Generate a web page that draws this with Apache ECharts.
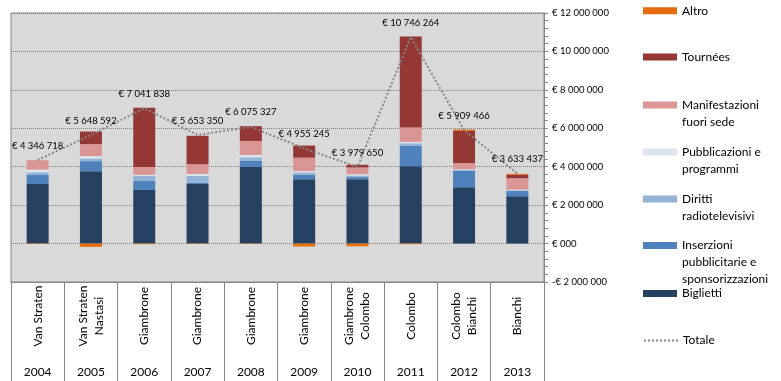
<!DOCTYPE html>
<html>
<head>
<meta charset="utf-8">
<script src="https://cdn.jsdelivr.net/npm/echarts@6/dist/echarts.min.js"></script>
<style>
  html, body { margin: 0; padding: 0; background: #fff; }
  #chart { width: 781px; height: 381px; }
</style>
</head>
<body>
<div id="chart"></div>
<script>
// ---- data ----
const years = ['2004', '2005', '2006', '2007', '2008', '2009', '2010', '2011', '2012', '2013'];
const directors = ['Van Straten', 'Van Straten\nNastasi', 'Giambrone', 'Giambrone', 'Giambrone', 'Giambrone', 'Giambrone\nColombo', 'Colombo', 'Colombo\nBianchi', 'Bianchi'];

const biglietti      = [3100000, 3770000, 2790000, 3100000, 3990000, 3350000, 3350000, 4030000, 2930000, 2460000];
const inserzioni     = [470000, 520000, 470000, 60000, 310000, 230000, 110000, 1060000, 860000, 280000];
const diritti        = [140000, 140000, 260000, 360000, 190000, 120000, 80000, 130000, 50000, 30000];
const pubblicazioni  = [140000, 120000, 60000, 100000, 120000, 70000, 70000, 70000, 30000, 40000];
const manifestazioni = [490000, 630000, 410000, 510000, 730000, 700000, 350000, 750000, 320000, 590000];
const tournees       = [0, 650000, 3080000, 1480000, 770000, 630000, 140000, 4740000, 1670000, 180000];
const altro          = [-20000, -170000, -30000, -20000, -20000, -150000, -140000, -30000, 70000, 50000];
const totale         = [4346718, 5648592, 7041838, 5653350, 6075327, 4955245, 3979650, 10746264, 5909466, 3633437];

const seriesNames = ['Biglietti', 'Inserzioni pubblicitarie e sponsorizzazioni', 'Diritti radiotelevisivi', 'Pubblicazioni e programmi', 'Manifestazioni fuori sede', 'Tournées', 'Altro', 'Totale'];
const legendLabels = ['Biglietti', 'Inserzioni\npubblicitarie e\nsponsorizzazioni', 'Diritti\nradiotelevisivi', 'Pubblicazioni e\nprogrammi', 'Manifestazioni\nfuori sede', 'Tournées', 'Altro', 'Totale'];
const seriesColors = ['#254061', '#4f81bd', '#95b3d7', '#dbe5f1', '#d99694', '#953735', '#e46c0a', '#868686'];

const yMin = -2000000, yMax = 12000000, yStep = 2000000;

// ---- helpers ----
function groupDigits(n) {
  return Math.abs(Math.round(n)).toString().replace(/\B(?=(\d{3})+(?!\d))/g, ' ');
}
function euroAxis(v) {
  if (v === 0) return '€ 000';
  return (v < 0 ? '-' : '') + '€ ' + groupDigits(v);
}

const FONT = 'Lato, "Open Sans", sans-serif';
const barValues = [biglietti, inserzioni, diritti, pubblicazioni, manifestazioni, tournees, altro];

const series = barValues.map((vals, i) => ({
  name: seriesNames[i],
  type: 'bar',
  stack: 'tot',
  barWidth: 22,
  data: vals,
  itemStyle: { color: seriesColors[i] },
  emphasis: { disabled: true }
}));
series.push({
  name: seriesNames[7],
  type: 'line',
  data: totale,
  symbol: 'circle',
  symbolSize: 1,
  showSymbol: true,
  lineStyle: { type: 'dotted', color: seriesColors[7], width: 2 },
  itemStyle: { color: 'rgba(0,0,0,0)' },
  emphasis: { disabled: true },
  label: {
    show: true,
    position: 'top',
    distance: 9,
    fontFamily: FONT,
    fontSize: 9.5,
    color: '#000',
    formatter: p => '€ ' + groupDigits(p.value)
  },
  z: 5
});

// legend layout: icon centre y; first text line aligned with icon
const legendOrder = [6, 5, 4, 3, 2, 1, 0, 7];
const iconCentres = [10.7, 57, 105, 152, 199, 245.5, 293.5, 340.5];
const LH = 17;
const legends = legendOrder.map((si, k) => {
  const lines = legendLabels[si].split('\n');
  const n = lines.length;
  const text = '\n'.repeat(n - 1) + legendLabels[si];
  const boxH = (2 * n - 1) * LH;
  return {
    data: [seriesNames[si]],
    left: 643,
    top: iconCentres[k] - boxH / 2,
    padding: 0,
    itemWidth: 34,
    itemHeight: 7,
    icon: si === 7 ? undefined : 'rect',
    selectedMode: false,
    formatter: () => text,
    textStyle: { fontFamily: FONT, fontSize: 12, color: '#000', lineHeight: LH }
  };
});

const option = {
  animation: false,
  backgroundColor: '#fff',
  textStyle: { fontFamily: FONT },
  grid: {
    left: 11, right: 237, top: 13, bottom: 99,
    show: true, backgroundColor: '#d9d9d9', borderColor: '#868686', borderWidth: 1,
    containLabel: false, outerBoundsMode: 'none'
  },
  legend: legends,
  xAxis: [
    {
      type: 'category',
      data: years,
      boundaryGap: true,
      axisLine: { show: true, onZero: false, lineStyle: { color: '#868686' } },
      axisTick: { show: true, interval: 0, length: 99, lineStyle: { color: '#868686' } },
      axisLabel: {
        interval: 0,
        rotate: 90,
        align: 'center',
        verticalAlign: 'middle',
        margin: 34,
        fontFamily: FONT,
        fontSize: 12,
        lineHeight: 16,
        color: '#000',
        formatter: (v, i) => directors[i]
      },
      splitLine: { show: false }
    },
    {
      type: 'category',
      data: years,
      position: 'bottom',
      boundaryGap: true,
      axisLine: { show: false },
      axisTick: { show: false },
      axisLabel: { interval: 0, margin: 84, fontFamily: FONT, fontSize: 12, color: '#000' },
      splitLine: { show: false }
    }
  ],
  yAxis: {
    type: 'value',
    position: 'right',
    min: yMin, max: yMax, interval: yStep,
    axisLine: { show: true, lineStyle: { color: '#868686' } },
    axisTick: { show: true, inside: false, length: 4, lineStyle: { color: '#868686' } },
    minorTick: { show: true, splitNumber: 5, length: 4, lineStyle: { color: '#868686' } },
    splitLine: { show: true, lineStyle: { type: 'dotted', color: '#7f7f7f', width: 1 } },
    axisLabel: { margin: 8, fontFamily: FONT, fontSize: 9.5, color: '#000', formatter: euroAxis }
  },
  series: series
};

const chart = echarts.init(document.getElementById('chart'), null, { renderer: 'canvas' });
chart.setOption(option);
</script>
</body>
</html>
